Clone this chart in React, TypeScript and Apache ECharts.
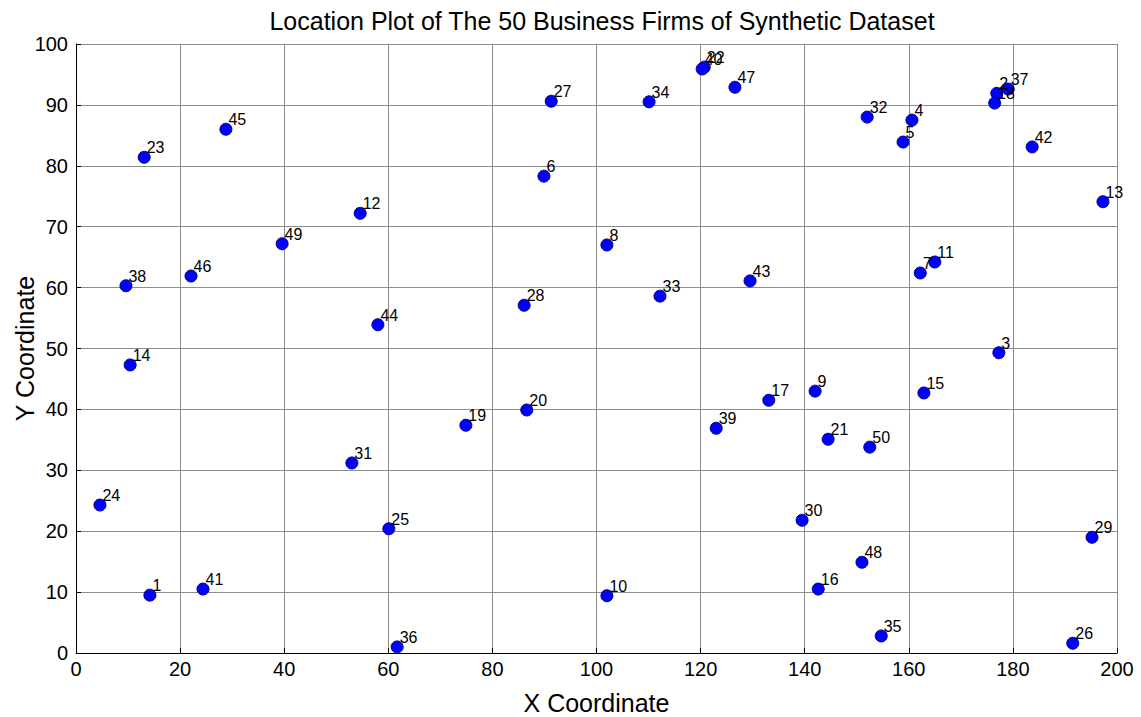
import React, { useEffect, useRef } from "react";
import * as echarts from "echarts";

const firmIds = [1,2,3,4,5,6,7,8,9,10,11,12,13,14,15,16,17,18,19,20,21,22,23,24,25,26,27,28,29,30,31,32,33,34,35,36,37,38,39,40,41,42,43,44,45,46,47,48,49,50];
const xCoords = [14.2,176.9,177.3,160.6,158.9,89.9,162.2,102.0,142.0,102.0,165.0,54.6,197.3,10.4,162.9,142.6,133.1,176.5,74.9,86.6,144.5,120.7,13.1,4.6,60.1,191.5,91.3,86.1,195.2,139.5,53.0,152.0,112.2,110.1,154.7,61.7,179.1,9.6,123.0,120.3,24.4,183.7,129.5,58.0,28.8,22.1,126.6,151.0,39.6,152.5];
const yCoords = [9.5,91.9,49.3,87.5,83.9,78.3,62.4,67.0,43.0,9.4,64.2,72.2,74.1,47.3,42.7,10.5,41.5,90.3,37.4,39.9,35.1,96.2,81.4,24.3,20.4,1.6,90.6,57.1,19.0,21.8,31.2,88.0,58.6,90.5,2.8,1.0,92.6,60.3,36.9,95.9,10.5,83.1,61.1,53.9,86.0,61.9,92.9,14.9,67.2,33.8];

const titleText = "Location Plot of The 50 Business Firms of Synthetic Dataset";

export default function App() {
  const ref = useRef<HTMLDivElement>(null);
  useEffect(() => {
    if (!ref.current) return;
    const chart = echarts.init(ref.current, null, { renderer: "svg" });
    const data = firmIds.map((id, i) => ({ value: [xCoords[i], yCoords[i]], name: String(id) }));
    const font = "Arial, 'Liberation Sans', Helvetica, sans-serif";
    chart.setOption({
      animation: false,
      backgroundColor: "#ffffff",
      textStyle: { fontFamily: font },
      title: {
        text: titleText,
        left: 597,
        textAlign: "center",
        top: 3,
        textStyle: { fontSize: 25, fontWeight: "normal", color: "#000", fontFamily: font },
      },
      grid: { left: 76, top: 44, width: 1041, height: 609, show: false, outerBoundsMode: "none", containLabel: false },
      xAxis: {
        type: "value",
        min: 0,
        max: 200,
        interval: 20,
        name: "X Coordinate",
        nameLocation: "middle",
        nameGap: 37,
        nameTextStyle: { fontSize: 25, color: "#000", fontFamily: font },
        axisLine: { show: true, lineStyle: { color: "#000", width: 1 } },
        axisTick: { show: true, inside: true, length: 5, lineStyle: { color: "#000" } },
        axisLabel: { fontSize: 20, color: "#000", margin: 6, fontFamily: font },
        splitLine: { show: true, lineStyle: { color: "#8c8c8c", width: 1 } },
      },
      yAxis: {
        type: "value",
        min: 0,
        max: 100,
        interval: 10,
        name: "Y Coordinate",
        nameLocation: "middle",
        nameGap: 39,
        nameMoveOverlap: false,
        nameTextStyle: { fontSize: 25, color: "#000", fontFamily: font },
        axisLine: { show: true, lineStyle: { color: "#000", width: 1 } },
        axisTick: { show: true, inside: true, length: 5, lineStyle: { color: "#000" } },
        axisLabel: { fontSize: 20, color: "#000", margin: 8, fontFamily: font },
        splitLine: { show: true, lineStyle: { color: "#8c8c8c", width: 1 } },
      },
      series: [
        {
          type: "scatter",
          data,
          symbol: "circle",
          symbolSize: 12,
          itemStyle: { color: "#0000ff", borderColor: "#000080", borderWidth: 1, opacity: 1 },
          label: {
            show: true,
            formatter: (p: any) => p.name,
            position: [9, -11],
            fontSize: 16,
            color: "#000",
            fontFamily: font,
          },
          labelLayout: { hideOverlap: false },
          z: 5,
        },
      ],
    });
    return () => chart.dispose();
  }, []);
  return (
    <div
      ref={ref}
      style={{ position: "fixed", left: 0, top: 0, width: 1141, height: 717, background: "#fff" }}
    />
  );
}
